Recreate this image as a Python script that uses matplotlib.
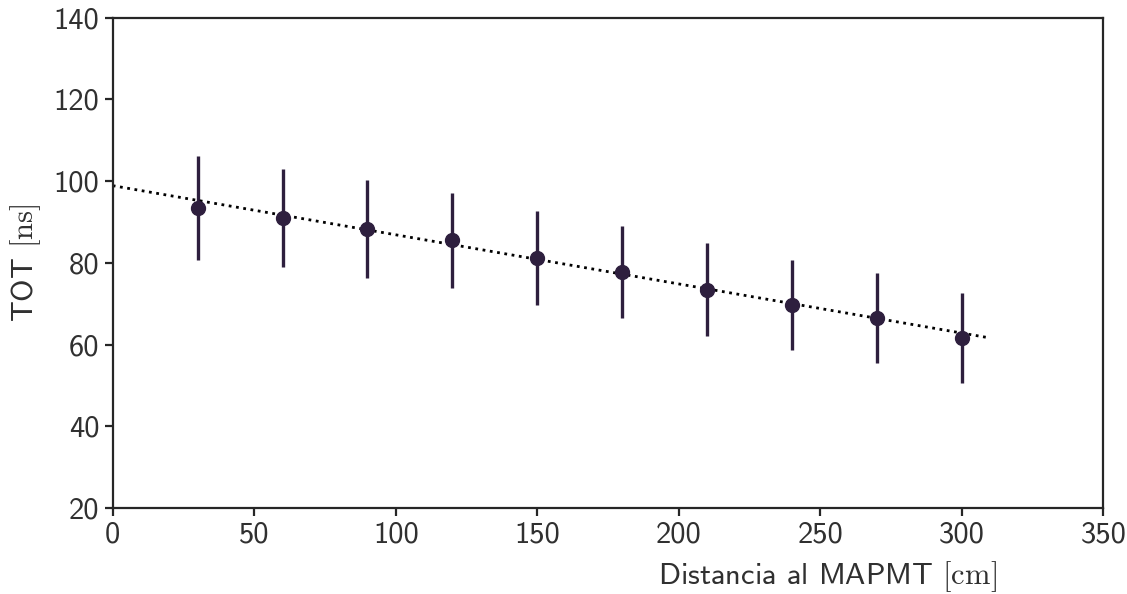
import matplotlib
matplotlib.use('Agg')
import matplotlib.pyplot as plt

# datos
dist = [30, 60, 90, 120, 150, 180, 210, 240, 270, 300]
tot = [93.5, 91.0, 88.2, 85.5, 81.2, 77.8, 73.4, 69.7, 66.5, 61.6]
err = [12.7, 12.0, 12.0, 11.7, 11.5, 11.2, 11.4, 11.0, 11.0, 11.0]
fit_x = [0, 310]
fit_y = [98.9, 61.6]

plt.rcParams['font.family'] = 'cmss10'
plt.rcParams['mathtext.fontset'] = 'cm'
plt.rcParams['axes.unicode_minus'] = False

fig, ax = plt.subplots(figsize=(11.27, 5.94), dpi=100)
col = '#2e1f3e'
ax.errorbar(dist, tot, yerr=err, fmt='o', color=col, ms=10, elinewidth=2.4, capsize=0)
ax.plot(fit_x, fit_y, ':', color='black', lw=2)

ax.set_xlim(0, 350)
ax.set_ylim(20, 140)
ax.set_xlabel(r'Distancia al MAPMT $[\mathrm{cm}]$', fontsize=22, color='#303030')
ax.set_ylabel(r'TOT $[\mathrm{ns}]$', fontsize=22, color='#303030')
ax.xaxis.set_label_coords(0.722, -0.105)
ax.yaxis.set_label_coords(-0.07, 0.5)
ax.tick_params(labelsize=22, width=1.6, length=6, colors='#262626', labelcolor='#303030')
for s in ax.spines.values():
    s.set_linewidth(1.6)
    s.set_color('#262626')

fig.subplots_adjust(left=0.1, right=0.979, top=0.97, bottom=0.145)
fig.savefig('out.png')
